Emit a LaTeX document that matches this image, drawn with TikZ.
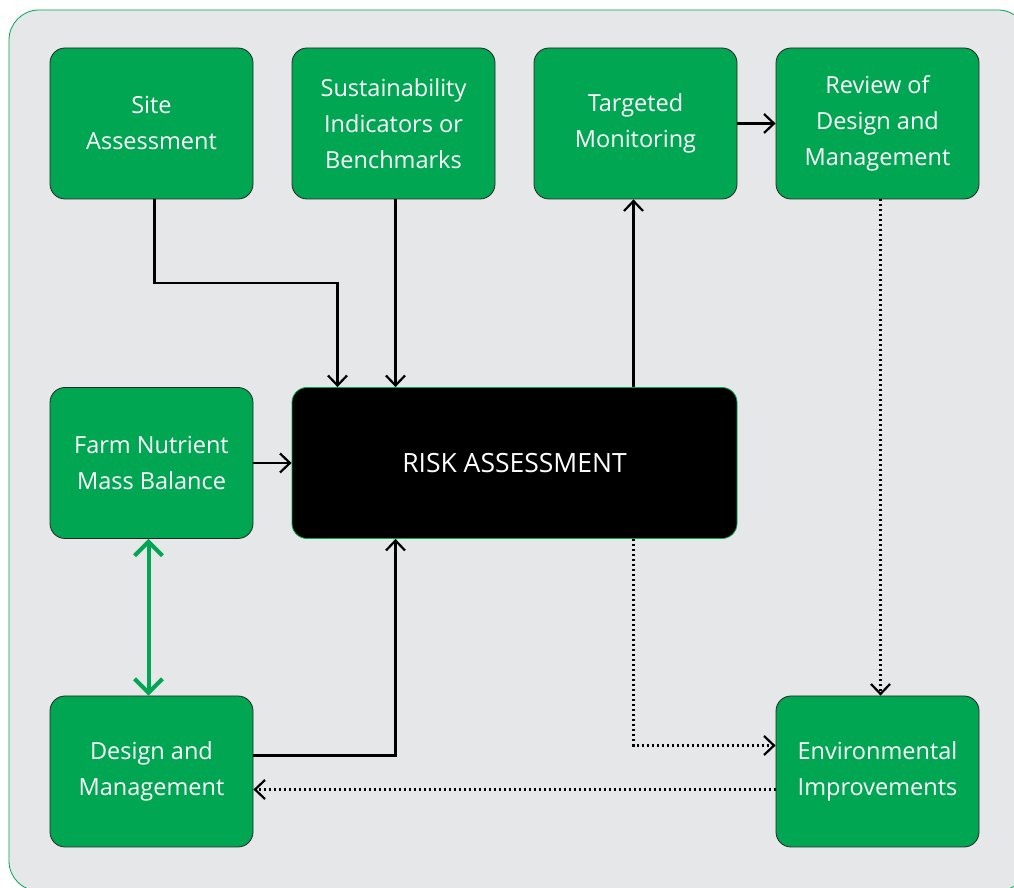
\documentclass[tikz,border=0pt]{standalone}
\usepackage{fontspec}
\setmainfont{Open Sans}
\usetikzlibrary{arrows.meta}

\definecolor{boxgreen}{HTML}{00A651}
\definecolor{panelgray}{HTML}{E6E7E8}

\tikzset{
	greenbox/.style={draw=black!85, line width=0.8pt, fill=boxgreen, rounded corners=15pt,
		minimum width=203pt, minimum height=151pt, align=center, text=white,
		font=\fontsize{23.5}{36}\selectfont},
	riskbox/.style={greenbox, fill=black, draw=boxgreen, minimum width=445pt,
		font=\fontsize{26.5}{36}\selectfont},
	arr/.style={line width=2.2pt, -{Straight Barb[length=10pt,width=19pt,line width=2.2pt]}},
	dots/.style={line width=2.2pt, dash pattern=on 2pt off 3pt}
}

\begin{document}
\begin{tikzpicture}[x=1pt, y=1pt]
	\useasboundingbox (0,0) rectangle (1014,888);
	\begin{scope}
	\clip (0,0) rectangle (1014,888);
	\draw [draw=boxgreen, fill=panelgray, line width=0.8pt, rounded corners=30pt] (9,-3) rectangle (1028,878);
	\end{scope}

	\node[greenbox] (site) at (151.5,764.5) {Site\\Assessment};
	\node[greenbox] (sust) at (393.5,764.5) {Sustainability\\Indicators or\\Benchmarks};
	\node[greenbox] (target) at (635.5,764.5) {Targeted\\Monitoring};
	\node[greenbox] (review) at (877.5,764.5) {Review of\\Design and\\Management};

	\node[greenbox] (farm) at (151.5,425) {Farm Nutrient\\Mass Balance};
	\node[riskbox] (risk) at (514.5,425) {RISK ASSESSMENT};

	\node[greenbox] (design) at (151.5,116.5) {Design and\\Management};
	\node[greenbox] (env) at (877.5,116.5) {Environmental\\Improvements};

	\draw [arr] ([xshift=3pt]site.south) -- ++(0,-84) -| ([xshift=-177pt]risk.north);
	\draw [arr] ([xshift=2pt]sust.south) -- ([xshift=2pt]sust.south |- risk.north);
	\draw [arr] ([xshift=-2pt]target.south |- risk.north) -- ([xshift=-2pt]target.south);
	\draw [arr] (target.east) -- (review.west);
	\draw [arr] (farm.east) -- (risk.west);
	\draw [arr] ([yshift=16pt]design.east) -| ([xshift=2pt]sust.south |- risk.south);

	\draw [arr, dots] ([xshift=3pt]review.south) -- ([xshift=3pt]env.north);
	\draw [arr, dots] ([xshift=-2pt]target.south |- risk.south) |- ([yshift=26pt]env.west);
	\draw [arr, dots] ([yshift=-18pt]env.west) -- ([yshift=-18pt]design.east);

	\draw [boxgreen, line width=4pt, {Straight Barb[length=14pt,width=28pt,line width=4pt]}-{Straight Barb[length=14pt,width=28pt,line width=4pt]}] ([xshift=-3pt]farm.south) -- ([xshift=-3pt]design.north);
\end{tikzpicture}
\end{document}
